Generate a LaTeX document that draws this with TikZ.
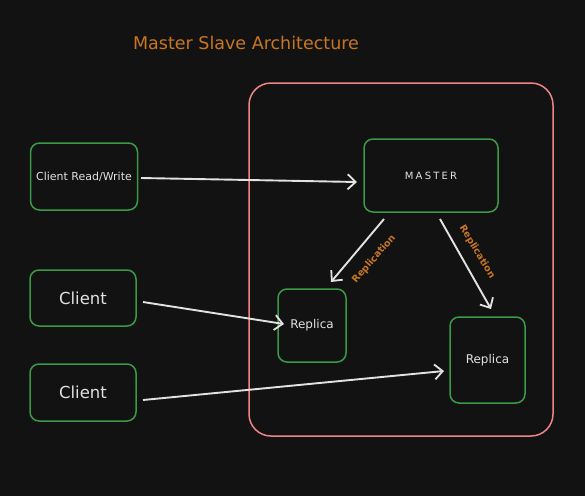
\documentclass[tikz,border=0pt]{standalone}
\usepackage{fontspec}
\setmainfont{DejaVu Sans}
\usetikzlibrary{arrows.meta}
\definecolor{bg}{HTML}{121212}
\definecolor{grn}{HTML}{3A9A48}
\definecolor{redc}{HTML}{F08585}
\definecolor{org}{HTML}{C8771C}
\definecolor{txt}{HTML}{E2E2E2}
\tikzset{
  box/.style={draw=grn, line width=1.5pt, rounded corners=9pt, text=txt, inner sep=0pt},
  conn/.style={draw=txt, line width=1.9pt, -{Straight Barb[length=8pt,width=15pt,line width=1.8pt]}},
  lbl/.style={text=org, font=\fontsize{9.5}{11}\selectfont\bfseries, inner sep=0pt}
}
\begin{document}
\begin{tikzpicture}[x=1pt,y=-1pt]
\fill[bg] (0,0) rectangle (585,496);
\useasboundingbox (0,0) rectangle (585,496);
\node[text=org, font=\fontsize{17.5}{20}\selectfont] (title) at (246,43) {Master Slave Architecture};
\draw[redc, line width=1.5pt, rounded corners=22pt] (249,83) rectangle (553,436);
\node[box, minimum width=107pt, minimum height=67pt, font=\fontsize{11}{13}\selectfont] (crw) at (84,176.5) {Client Read/Write};
\node[box, minimum width=106pt, minimum height=56pt, font=\fontsize{16.5}{19}\selectfont] (c1) at (83,298) {Client};
\node[box, minimum width=106pt, minimum height=57pt, font=\fontsize{16.5}{19}\selectfont] (c2) at (83,392.5) {Client};
\node[box, minimum width=134pt, minimum height=73pt, font=\fontsize{10}{12}\selectfont\addfontfeatures{LetterSpace=22}] (m) at (431,175.5) {MASTER};
\node[box, minimum width=68pt, minimum height=73pt, font=\fontsize{12}{14}\selectfont] (r1) at (312,325.5) {Replica};
\node[box, minimum width=75pt, minimum height=86pt, font=\fontsize{12}{14}\selectfont] (r2) at (487.5,360) {Replica};
\coordinate (a1s) at (141,178);
\coordinate (a1e) at (357,182);
\draw[conn] (a1s) -- (a1e);
\coordinate (a2s) at (143,302);
\coordinate (a2e) at (284,324);
\draw[conn] (a2s) -- (a2e);
\coordinate (a3s) at (143,400);
\coordinate (a3e) at (444,371);
\draw[conn] (a3s) -- (a3e);
\coordinate (a4s) at (384,219);
\coordinate (a4e) at (331,282);
\draw[conn] (a4s) -- (a4e);
\coordinate (a5s) at (440,219);
\coordinate (a5e) at (491,309);
\draw[conn] (a5s) -- (a5e);
\node[lbl, rotate=49] (l1) at (374,259) {Replication};
\node[lbl, rotate=-59] (l2) at (477,252) {Replication};
\end{tikzpicture}
\end{document}
